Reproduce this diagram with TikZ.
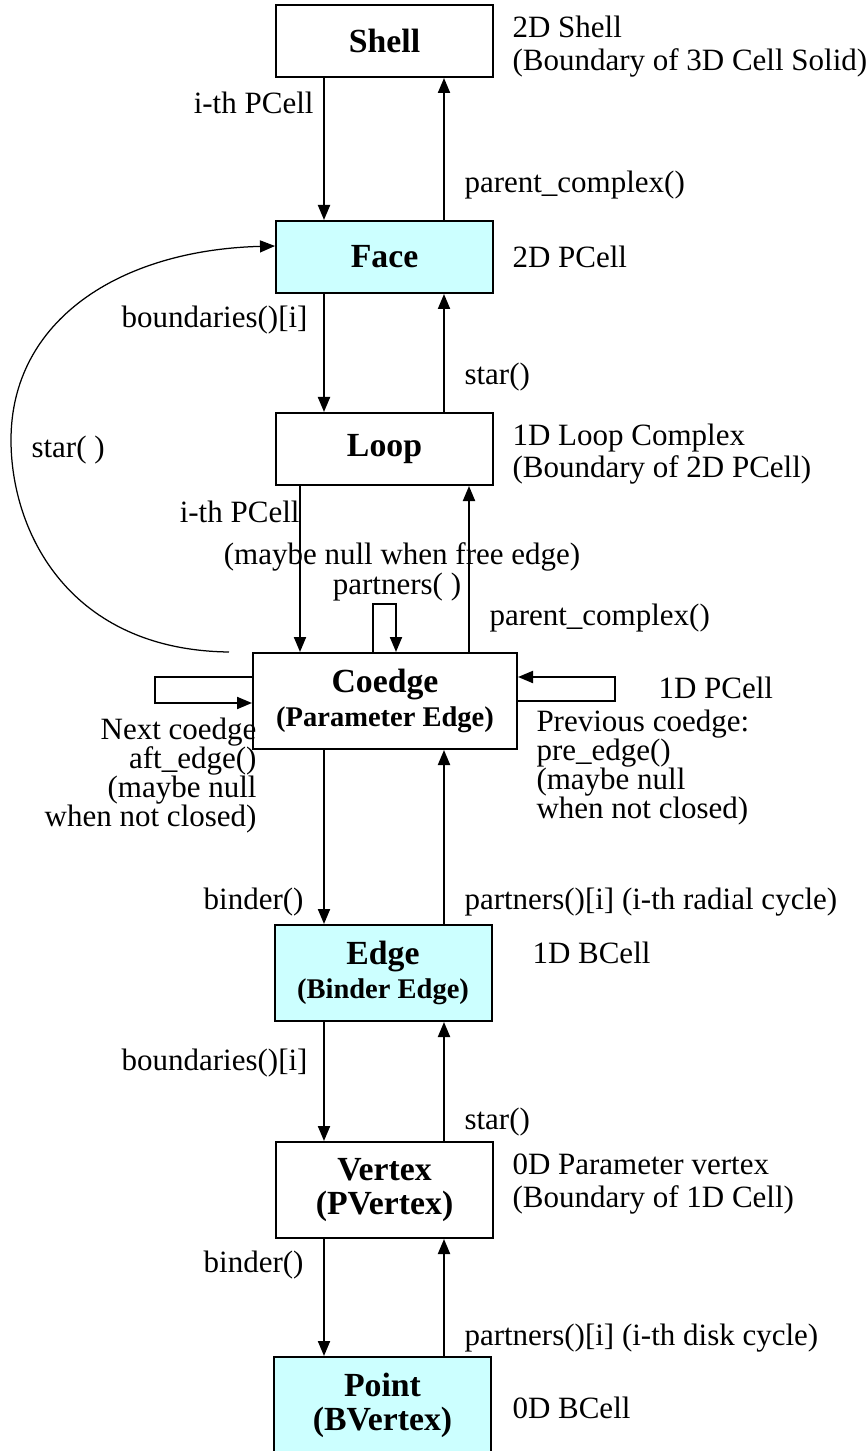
\documentclass[tikz,border=0pt]{standalone}
\usepackage{fontspec}
\setmainfont{Liberation Serif}
\usetikzlibrary{arrows.meta}
\definecolor{cellcyan}{HTML}{CCFFFF}
\newcommand{\subname}[1]{{\fontsize{11.4}{13.6}\selectfont #1}}

\begin{document}
\begin{tikzpicture}[
    x=0.4pt, y=-0.4pt,
    every node/.style={inner sep=0pt, font=\fontsize{12.4}{13}\selectfont},
    cell/.style={draw, line width=0.8pt, minimum width=86.8pt, minimum height=28.8pt,
        align=center, font=\fontsize{13.5}{13.5}\selectfont\bfseries},
    bcell/.style={cell, fill=cellcyan},
    tall/.style={minimum height=38.4pt},
    link/.style={-{Triangle[length=6pt,width=4.8pt]}, line width=0.8pt},
    note/.style={anchor=west, align=left},
    rnote/.style={anchor=east, align=right},
    coblock/.style={font=\fontsize{12.4}{11.6}\selectfont}
]
\useasboundingbox (0,0) rectangle (867,1451);

% cells
\node[cell] (shell) at (384.5,41) {Shell};
\node[bcell] (face) at (384.5,257) {Face};
\node[cell] (loop) at (384.5,449) {Loop};
\node[cell, tall, minimum width=105.6pt] (coedge) at (385,701) {Coedge\\\subname{(Parameter Edge)}};
\node[bcell, tall] (edge) at (383,973) {Edge\\\subname{(Binder Edge)}};
\node[cell, tall] (vertex) at (384.5,1190) {Vertex\\(PVertex)};
\node[bcell, tall] (point) at (382.5,1405) {Point\\(BVertex)};

% arrow columns
\coordinate (dn) at (324,0);
\coordinate (up) at (444,0);
\coordinate (dnl) at (300,0);
\coordinate (upl) at (469,0);

\draw[link] (shell.south -| dn) -- (face.north -| dn);
\draw[link] (face.north -| up) -- (shell.south -| up);
\draw[link] (face.south -| dn) -- (loop.north -| dn);
\draw[link] (loop.north -| up) -- (face.south -| up);
\draw[link] (loop.south -| dnl) -- (coedge.north -| dnl);
\draw[link] (coedge.north -| upl) -- (loop.south -| upl);
\draw[link] (coedge.south -| dn) -- (edge.north -| dn);
\draw[link] (edge.north -| up) -- (coedge.south -| up);
\draw[link] (edge.south -| dn) -- (vertex.north -| dn);
\draw[link] (vertex.north -| up) -- (edge.south -| up);
\draw[link] (vertex.south -| dn) -- (point.north -| dn);
\draw[link] (point.north -| up) -- (vertex.south -| up);

% coedge loops
\draw[link] (coedge.north) ++(-12,0) -- ++(0,-48) -- ++(23,0) -- ++(0,48);
\draw[link] (coedge.west) ++(0,-24) -- ++(-97,0) -- ++(0,26) -- ++(97,0);
\draw[link] (coedge.east) -- ++(97,0) -- ++(0,-24) -- ++(-97,0);
\draw[-{Triangle[length=6pt,width=4.8pt]}, line width=0.5pt]
    ([xshift=-9.2pt]coedge.north west) .. controls (69,650) and (11,532) .. (11,440)
    .. controls (11,320) and (120,250) .. ([yshift=4.4pt]face.west);

% labels
\node[rnote] (sh2fa) at (314,103) {i-th PCell};
\node[note] (fa2sh) at (464,185) {parent\_complex()};
\node[note] (shinfo) at (512,46.5) {2D Shell\\(Boundary of 3D Cell Solid)};
\node[note] (fainfo) at (512,257) {2D PCell};
\node[rnote] (fa2lo) at (308,320) {boundaries()[i]};
\node[note] (lo2fa) at (464,377) {star()};
\node[note] (loinfo) at (512,454) {1D Loop Complex\\(Boundary of 2D PCell)};
\node[note] (co2fa) at (31,450) {star( )};
\node[rnote] (lo2co) at (300,512) {i-th PCell};
\node (freeedge) at (402,557) {(maybe null when free edge)};
\node (partner) at (397,587) {partners( )};
\node[note] (co2lo) at (489,618) {parent\_complex()};
\node[note] (coinfo) at (658,688) {1D PCell};
\node[rnote, coblock] (nextco) at (257,776) {Next coedge\hspace{3pt}\\aft\_edge()\\(maybe null\\when not closed)};
\node[note, coblock] (prevco) at (536,768) {Previous coedge:\\pre\_edge()\\(maybe null\\when not closed)};
\node[rnote] (co2ed) at (304,902) {binder()};
\node[note] (ed2co) at (464,902) {partners()[i] (i-th radial cycle)};
\node[note] (edinfo) at (532,953) {1D BCell};
\node[rnote] (ed2ve) at (308,1063) {boundaries()[i]};
\node[note] (ve2ed) at (464,1122) {star()};
\node[note] (veinfo) at (512,1184) {0D Parameter vertex\\(Boundary of 1D Cell)};
\node[rnote] (ve2pt) at (304,1265) {binder()};
\node[note] (pt2ve) at (464,1338) {partners()[i] (i-th disk cycle)};
\node[note] (ptinfo) at (512,1408) {0D BCell};
\end{tikzpicture}
\end{document}
